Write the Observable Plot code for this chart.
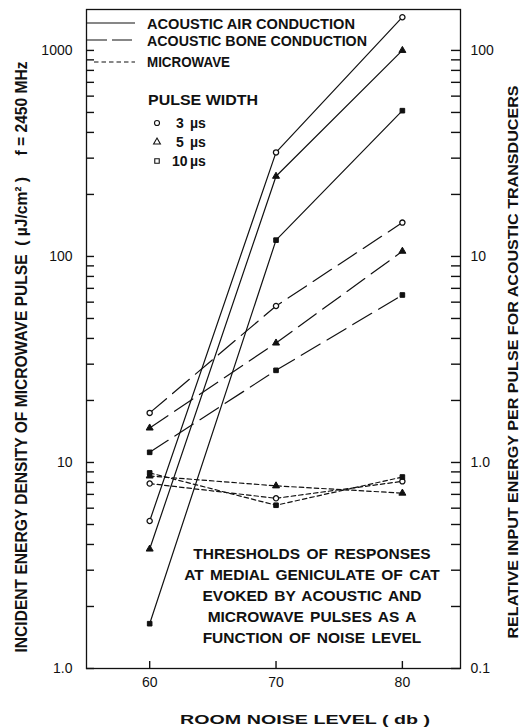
<!DOCTYPE html>
<html>
<head>
<meta charset="utf-8">
<script src="https://cdn.jsdelivr.net/npm/d3@7"></script>
<script src="https://cdn.jsdelivr.net/npm/@observablehq/plot@0.6"></script>
<style>
  html, body { margin: 0; padding: 0; background: #fff; }
  svg { display: block; }
</style>
</head>
<body>
<div id="chart"></div>
<script>
// ---------- data ----------
const noiseLevels = [60, 70, 80];            // room noise level (db)
const pulseWidths = [3, 5, 10];              // pulse width (µs)

// acoustic air conduction
const air3  = [5.2, 320, 1450];
const air5  = [3.8, 245, 1000];
const air10 = [1.65, 120, 510];

// acoustic bone conduction
const bone3  = [17.4, 57.5, 146];
const bone5  = [14.7, 38, 106];
const bone10 = [11.2, 28, 65];

// microwave
const micro3  = [7.9, 6.7, 8.1];
const micro5  = [8.6, 7.7, 7.1];
const micro10 = [8.9, 6.2, 8.5];

const yMajorTicks = [1, 10, 100, 1000];
const leftTickLabels  = ["1.0", "10", "100", "1000"];
const rightTickLabels = ["0.1", "1.0", "10", "100"];
const xTicks = [60, 70, 80];

const legendLabels = ["ACOUSTIC AIR CONDUCTION", "ACOUSTIC BONE CONDUCTION", "MICROWAVE"];
const pulseLegendTitle = "PULSE WIDTH";
const pulseLegendLabels = ["3", "5", "10"];
const noteLines = [
  "THRESHOLDS OF RESPONSES",
  "AT MEDIAL GENICULATE OF CAT",
  "EVOKED BY ACOUSTIC AND",
  "MICROWAVE PULSES AS A",
  "FUNCTION OF NOISE LEVEL"
];
const xTitle = "ROOM NOISE LEVEL ( db )";
const yTitleLeft = "INCIDENT ENERGY DENSITY OF MICROWAVE PULSE  ( µJ/cm² )     f = 2450 MHz";
const yTitleRight = "RELATIVE INPUT ENERGY PER PULSE FOR ACOUSTIC TRANSDUCERS";

// ---------- build table ----------
const seriesList = [
  {source: "air", pulse: 3, values: air3},
  {source: "air", pulse: 5, values: air5},
  {source: "air", pulse: 10, values: air10},
  {source: "bone", pulse: 3, values: bone3},
  {source: "bone", pulse: 5, values: bone5},
  {source: "bone", pulse: 10, values: bone10},
  {source: "micro", pulse: 3, values: micro3},
  {source: "micro", pulse: 5, values: micro5},
  {source: "micro", pulse: 10, values: micro10}
];
const rows = seriesList.flatMap(s => s.values.map((v, i) => ({
  source: s.source, pulse: s.pulse, noise: noiseLevels[i], value: v
})));

const INK = "#111";
const FONT = "'Liberation Sans', Arial, sans-serif";
const W = 521, H = 727;
const M = {top: 9, right: 61, bottom: 59, left: 86};
const frameW = W - M.left - M.right;
const frameH = H - M.top - M.bottom;

const yDomain = [1, 1580];
const minorTicks = d3.scaleLog().domain(yDomain).ticks().filter(t => !yMajorTicks.includes(t));
const allYTicks = yMajorTicks.concat(minorTicks);
const leftLabel = new Map(yMajorTicks.map((t, i) => [t, leftTickLabels[i]]));
const rightLabel = new Map(yMajorTicks.map((t, i) => [t, rightTickLabels[i]]));

const dashFor = {air: null, bone: "22,8", micro: "4.5,3"};
const lineMarks = ["air", "bone", "micro"].map(src =>
  Plot.line(rows.filter(d => d.source === src), {
    x: "noise", y: "value", z: "pulse",
    stroke: INK, strokeWidth: 1.2,
    strokeDasharray: dashFor[src] || undefined
  })
);

const chart = Plot.plot({
  width: W, height: H,
  marginTop: M.top, marginRight: M.right, marginBottom: M.bottom, marginLeft: M.left,
  style: {fontFamily: FONT, fontSize: "14px", color: INK, background: "#fff"},
  x: {domain: [55, 84.6], axis: null},
  y: {type: "log", domain: yDomain, axis: null},
  symbol: {domain: pulseWidths, range: ["circle", "triangle", "square"]},
  marks: [
    // inward ticks: short rules hugging the frame
    Plot.ruleY(allYTicks, {y: d => d, insetRight: frameW - 8, stroke: INK, strokeWidth: 1.4}),
    Plot.ruleY(allYTicks, {y: d => d, insetLeft: frameW - 9, stroke: INK, strokeWidth: 1.4}),
    Plot.ruleX(xTicks, {x: d => d, insetTop: frameH - 7, stroke: INK, strokeWidth: 1.4}),
    // tick labels
    Plot.axisY(yMajorTicks, {anchor: "left", tickSize: 0, tickPadding: 14, label: null, fontSize: 14,
      tickFormat: d => leftLabel.get(d)}),
    Plot.axisY(yMajorTicks, {anchor: "right", tickSize: 0, tickPadding: 10, label: null, fontSize: 14,
      tickFormat: d => rightLabel.get(d)}),
    Plot.axisX(xTicks, {anchor: "bottom", tickSize: 0, tickPadding: 9, label: null, fontSize: 14,
      tickFormat: d => String(d)}),
    Plot.frame({stroke: INK, strokeWidth: 1.3}),
    ...lineMarks,
    Plot.dot(rows.filter(d => d.pulse === 3), {
      x: "noise", y: "value", symbol: "pulse", r: 2.6, fill: "white", stroke: INK, strokeWidth: 1.3
    }),
    Plot.dot(rows.filter(d => d.pulse !== 3), {
      x: "noise", y: "value", symbol: "pulse", r: 2.6, fill: INK, stroke: INK, strokeWidth: 1
    })
  ]
});
document.getElementById("chart").appendChild(chart);

// ---------- decorations: legend, note, axis titles ----------
const svg = d3.select(chart);
const deco = svg.append("g").attr("fill", INK).attr("font-family", FONT);
function label(x, y, str, o = {}) {
  const t = deco.append("text")
    .attr("x", x).attr("y", y)
    .attr("font-size", o.size || 14)
    .attr("font-weight", o.weight || "bold")
    .attr("text-anchor", o.anchor || "start")
    .text(str);
  if (o.len) t.attr("textLength", o.len).attr("lengthAdjust", "spacingAndGlyphs");
  if (o.transform) t.attr("transform", o.transform);
  if (o.ws) t.attr("word-spacing", o.ws);
  return t;
}

// line-style legend
const legendRows = [
  {y: 23, dash: null, x0: 87, base: 29, len: 208},
  {y: 40, dash: "20,5", x0: 87, base: 46, len: 220},
  {y: 62, dash: "4.5,3", x0: 94, base: 67, len: 83}
];
legendRows.forEach((r, i) => {
  deco.append("line")
    .attr("x1", r.x0).attr("x2", 135).attr("y1", r.y).attr("y2", r.y)
    .attr("stroke", INK).attr("stroke-width", 1.2)
    .attr("stroke-dasharray", r.dash);
  label(147, r.base, legendLabels[i], {size: 14, len: r.len});
});

// pulse-width legend
label(148, 105, pulseLegendTitle, {size: 14, len: 110});
const symTypes = [d3.symbolCircle, d3.symbolTriangle, d3.symbolSquare];
const symYs = [123, 142, 161];
const symBase = [128, 147, 166];
pulseLegendLabels.forEach((lab, i) => {
  deco.append("path")
    .attr("d", d3.symbol(symTypes[i], 20)())
    .attr("transform", `translate(157,${symYs[i]})`)
    .attr("fill", "white").attr("stroke", INK).attr("stroke-width", 1.1);
  label(lab.length > 1 ? 172 : 176, symBase[i], lab, {size: 14});
  label(190, symBase[i], "µs", {size: 14});
});

// in-plot note
const noteBase = [559, 580, 601, 622, 643];
noteLines.forEach((line, i) => {
  label(312, noteBase[i], line, {size: 15.5, anchor: "middle", ws: 2});
});

// axis titles
label(305, 724, xTitle, {size: 13, anchor: "middle", len: 250});
label(0, 0, yTitleLeft, {size: 16, anchor: "middle", len: 591,
  transform: "translate(27,357) rotate(-90)"});
label(0, 0, yTitleRight, {size: 14, anchor: "middle", len: 553,
  transform: "translate(518,362) rotate(-90)"});
</script>
</body>
</html>
